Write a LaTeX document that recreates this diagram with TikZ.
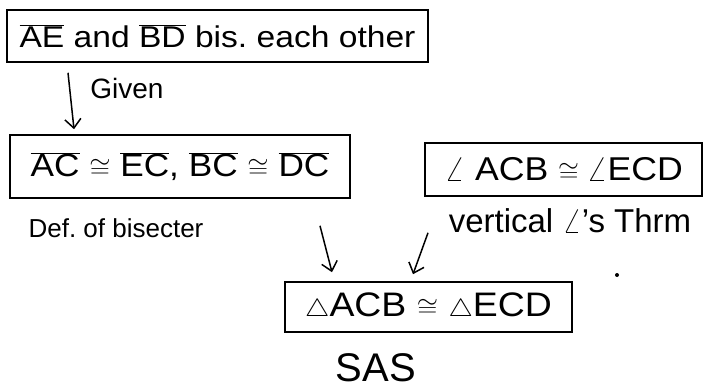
\documentclass[tikz,border=0pt]{standalone}
\usepackage{fontspec}
\setmainfont{Liberation Sans}
\usetikzlibrary{arrows.meta}
\frenchspacing
% overlined segment name, upright letters
\newcommand{\segname}[1]{$\overline{\mbox{#1}}$}
\begin{document}
\begin{tikzpicture}[x=1pt,y=-1pt,
  stmt/.style={draw, line width=1.6pt, inner sep=0pt, anchor=center},
  reason/.style={inner sep=0pt, anchor=center},
  flow/.style={line width=1.5pt, -{Straight Barb[length=9pt,width=16pt,line width=1.5pt]}}]
\useasboundingbox (0,0) rectangle (709,390);

% statements
\node[stmt, minimum width=421pt, minimum height=52pt,
      font=\fontsize{30}{34}\selectfont] (given) at (217.5,36)
  {\scalebox{1.12}[1]{\segname{AE} and \segname{BD} bis. each other}};
\node[stmt, minimum width=340pt, minimum height=63pt,
      font=\fontsize{32}{36}\selectfont] (sides) at (180,166.5)
  {\scalebox{1.1}[1]{\segname{AC} $\cong$ \segname{EC}, \segname{BC} $\cong$ \segname{DC}}};
\node[stmt, minimum width=277pt, minimum height=53pt,
      font=\fontsize{33}{37}\selectfont] (angles) at (563.5,169.5)
  {\scalebox{1.08}[1]{$\angle$ ACB $\cong\angle$ECD}};
\node[stmt, minimum width=287pt, minimum height=50pt,
      font=\fontsize{34}{38}\selectfont] (tri) at (428.5,307)
  {\scalebox{1.1}[1]{$\triangle$ACB $\cong$ $\triangle$ECD}};

% reasons
\node[reason, font=\fontsize{28}{32}\selectfont] (rgiven) at (127,88) {Given};
\node[reason, font=\fontsize{26}{30}\selectfont] (rbis) at (116,228) {Def. of bisecter};
\node[reason, font=\fontsize{33}{37}\selectfont] (rvert) at (570,221) {vertical $\angle$'s Thrm};
\node[reason, font=\fontsize{40}{44}\selectfont] (rsas) at (376,368) {SAS};

% flow arrows
\draw[flow] ([xshift=-149.5pt,yshift=-10pt]given.south) -- ([xshift=-106pt,yshift=5pt]sides.north);
\draw[flow] ([xshift=140pt,yshift=-27pt]sides.south) -- ([xshift=-96.5pt,yshift=9pt]tri.north);
\draw[flow] ([xshift=-135.5pt,yshift=-36pt]angles.south) -- ([xshift=-15.5pt,yshift=7pt]tri.north);

% stray mark
\fill (617,275) circle (2pt);
\end{tikzpicture}
\end{document}
